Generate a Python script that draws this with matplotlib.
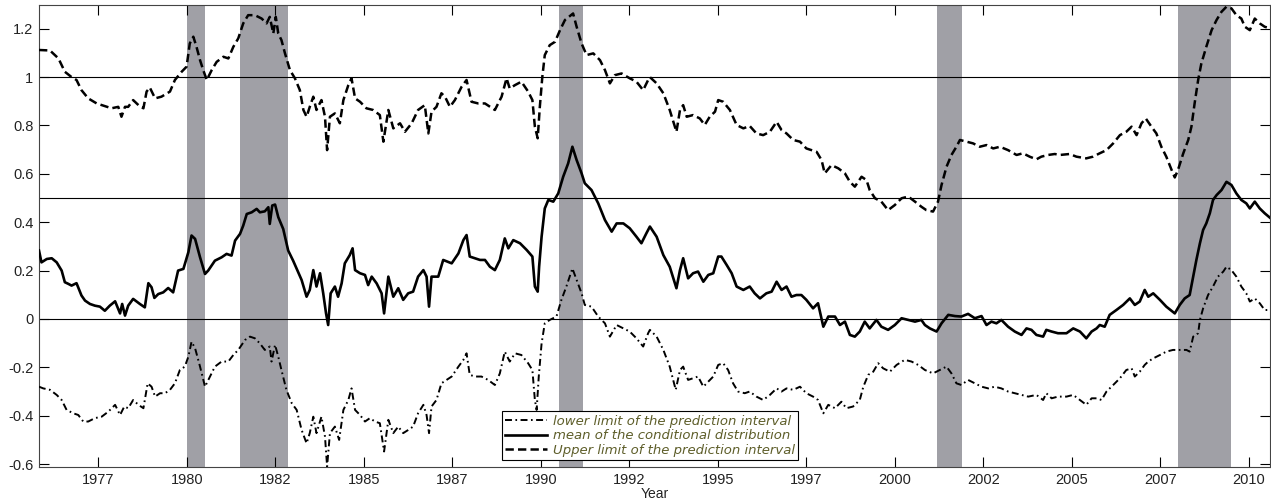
import matplotlib
matplotlib.use('Agg')
import matplotlib.pyplot as plt
from matplotlib.ticker import FuncFormatter

plt.rcParams['font.family'] = ['Liberation Sans', 'DejaVu Sans']
plt.rcParams['axes.unicode_minus'] = False
plt.rcParams['lines.scale_dashes'] = False

# upper limit of the prediction interval
upper_years = [1975.82, 1976.13, 1976.37, 1976.55, 1976.74, 1976.88, 1977.02, 1977.21, 1977.45, 1977.68,
               1977.87, 1978.06, 1978.15, 1978.25, 1978.34, 1978.48, 1978.63, 1978.77, 1978.86, 1978.95,
               1979.10, 1979.28, 1979.52, 1979.66, 1979.85, 1979.99, 1980.08, 1980.18, 1980.27, 1980.37,
               1980.46, 1980.56, 1980.70, 1980.84, 1981.03, 1981.17, 1981.31, 1981.45, 1981.59, 1981.73,
               1981.92, 1982.11, 1982.25, 1982.34, 1982.44, 1982.51, 1982.58, 1982.67, 1982.77, 1982.91,
               1983.05, 1983.19, 1983.29, 1983.38, 1983.47, 1983.57, 1983.66, 1983.80, 1983.90, 1983.96,
               1984.04, 1984.18, 1984.32, 1984.42, 1984.56, 1984.65, 1984.75, 1984.89, 1985.07, 1985.26,
               1985.45, 1985.55, 1985.69, 1985.83, 1986.02, 1986.16, 1986.35, 1986.53, 1986.72, 1986.82,
               1986.91, 1987.05, 1987.19, 1987.29, 1987.43, 1987.57, 1987.76, 1987.90, 1988.04, 1988.23,
               1988.42, 1988.70, 1988.89, 1989.03, 1989.12, 1989.27, 1989.45, 1989.64, 1989.76, 1989.83,
               1989.91, 1989.97, 1990.04, 1990.11, 1990.25, 1990.40, 1990.54, 1990.68, 1990.91, 1991.01,
               1991.15, 1991.29, 1991.48, 1991.67, 1991.81, 1991.95, 1992.09, 1992.28, 1992.51, 1992.70,
               1992.89, 1993.03, 1993.08, 1993.27, 1993.46, 1993.64, 1993.83, 1993.93, 1994.02, 1994.12,
               1994.30, 1994.49, 1994.63, 1994.77, 1994.92, 1995.01, 1995.15, 1995.34, 1995.53, 1995.72,
               1995.90, 1996.09, 1996.28, 1996.47, 1996.66, 1996.80, 1996.94, 1997.13, 1997.32, 1997.50,
               1997.79, 1997.93, 1998.02, 1998.21, 1998.40, 1998.59, 1998.73, 1998.87, 1999.06, 1999.20,
               1999.29, 1999.44, 1999.62, 1999.81, 2000.00, 2000.19, 2000.38, 2000.57, 2000.75, 2000.89,
               2001.08, 2001.22, 2001.32, 2001.46, 2001.60, 2001.74, 2001.84, 2002.02, 2002.21, 2002.40,
               2002.59, 2002.78, 2002.97, 2003.20, 2003.44, 2003.62, 2003.81, 2004.00, 2004.14, 2004.33,
               2004.52, 2004.66, 2004.94, 2005.13, 2005.41, 2005.60, 2005.79, 2005.98, 2006.17, 2006.36,
               2006.54, 2006.69, 2006.83, 2006.97, 2007.09, 2007.25, 2007.39, 2007.53, 2007.67, 2007.82,
               2007.91, 2008.00, 2008.15, 2008.29, 2008.38, 2008.47, 2008.57, 2008.66, 2008.80, 2008.95,
               2009.09, 2009.23, 2009.37, 2009.51, 2009.65, 2009.79, 2009.89, 2010.03, 2010.17, 2010.31,
               2010.45, 2010.62]
upper = [1.112, 1.110, 1.077, 1.022, 1.000, 0.988, 0.946, 0.912, 0.891, 0.880,
         0.871, 0.877, 0.836, 0.877, 0.877, 0.905, 0.884, 0.871, 0.940, 0.957,
         0.912, 0.919, 0.940, 0.988, 1.022, 1.043, 1.139, 1.167, 1.125, 1.070,
         1.029, 0.988, 1.029, 1.063, 1.084, 1.077, 1.125, 1.160, 1.222, 1.256,
         1.256, 1.242, 1.222, 1.249, 1.180, 1.249, 1.180, 1.153, 1.098, 1.029,
         0.995, 0.946, 0.864, 0.836, 0.877, 0.919, 0.864, 0.905, 0.836, 0.698,
         0.836, 0.850, 0.809, 0.905, 0.967, 0.995, 0.912, 0.898, 0.871, 0.864,
         0.843, 0.733, 0.864, 0.788, 0.809, 0.774, 0.809, 0.864, 0.884, 0.767,
         0.857, 0.877, 0.933, 0.919, 0.877, 0.905, 0.960, 0.988, 0.898, 0.891,
         0.891, 0.864, 0.919, 0.995, 0.953, 0.967, 0.981, 0.940, 0.905, 0.795,
         0.747, 0.877, 1.000, 1.091, 1.132, 1.146, 1.194, 1.236, 1.263, 1.208,
         1.139, 1.091, 1.098, 1.070, 1.029, 0.974, 1.008, 1.015, 0.995, 0.981,
         0.946, 0.988, 1.000, 0.974, 0.933, 0.864, 0.774, 0.864, 0.884, 0.836,
         0.843, 0.829, 0.802, 0.836, 0.857, 0.905, 0.898, 0.864, 0.802, 0.788,
         0.798, 0.767, 0.760, 0.774, 0.815, 0.781, 0.767, 0.740, 0.733, 0.705,
         0.691, 0.657, 0.602, 0.636, 0.623, 0.602, 0.567, 0.547, 0.588, 0.574,
         0.533, 0.499, 0.485, 0.450, 0.471, 0.499, 0.506, 0.485, 0.464, 0.450,
         0.444, 0.485, 0.554, 0.629, 0.678, 0.712, 0.740, 0.733, 0.726, 0.712,
         0.719, 0.705, 0.712, 0.698, 0.678, 0.685, 0.671, 0.660, 0.671, 0.678,
         0.682, 0.678, 0.682, 0.671, 0.664, 0.671, 0.685, 0.698, 0.726, 0.760,
         0.774, 0.795, 0.760, 0.809, 0.829, 0.795, 0.767, 0.712, 0.671, 0.616,
         0.585, 0.616, 0.685, 0.740, 0.795, 0.891, 0.988, 1.056, 1.125, 1.194,
         1.236, 1.270, 1.291, 1.284, 1.256, 1.242, 1.208, 1.194, 1.242, 1.222,
         1.208, 1.201]

# mean of the conditional distribution
mean_years = [1975.82, 1975.89, 1976.04, 1976.18, 1976.32, 1976.46, 1976.55, 1976.65, 1976.74, 1976.88,
              1977.02, 1977.12, 1977.26, 1977.40, 1977.54, 1977.68, 1977.82, 1977.97, 1978.11, 1978.17,
              1978.25, 1978.34, 1978.48, 1978.67, 1978.81, 1978.91, 1979.00, 1979.08, 1979.19, 1979.33,
              1979.47, 1979.61, 1979.75, 1979.90, 1980.04, 1980.13, 1980.23, 1980.37, 1980.51, 1980.60,
              1980.79, 1980.98, 1981.12, 1981.26, 1981.36, 1981.50, 1981.59, 1981.69, 1981.83, 1981.97,
              1982.06, 1982.20, 1982.30, 1982.34, 1982.41, 1982.49, 1982.58, 1982.72, 1982.86, 1983.00,
              1983.24, 1983.38, 1983.47, 1983.57, 1983.66, 1983.76, 1983.85, 1983.93, 1983.99, 1984.06,
              1984.18, 1984.27, 1984.37, 1984.46, 1984.60, 1984.68, 1984.75, 1984.89, 1985.03, 1985.12,
              1985.22, 1985.36, 1985.50, 1985.57, 1985.69, 1985.83, 1985.97, 1986.11, 1986.25, 1986.39,
              1986.53, 1986.68, 1986.77, 1986.84, 1986.91, 1987.10, 1987.24, 1987.48, 1987.67, 1987.81,
              1987.90, 1987.99, 1988.14, 1988.28, 1988.42, 1988.56, 1988.70, 1988.84, 1988.98, 1989.08,
              1989.22, 1989.41, 1989.60, 1989.76, 1989.83, 1989.91, 1989.95, 1990.02, 1990.11, 1990.21,
              1990.35, 1990.49, 1990.63, 1990.77, 1990.89, 1991.01, 1991.15, 1991.24, 1991.43, 1991.62,
              1991.81, 1992.00, 1992.14, 1992.33, 1992.51, 1992.70, 1992.84, 1992.98, 1993.08, 1993.27,
              1993.46, 1993.64, 1993.83, 1993.93, 1994.02, 1994.16, 1994.30, 1994.44, 1994.59, 1994.73,
              1994.87, 1995.01, 1995.10, 1995.25, 1995.39, 1995.53, 1995.72, 1995.90, 1996.04, 1996.19,
              1996.37, 1996.52, 1996.66, 1996.80, 1996.94, 1997.08, 1997.22, 1997.36, 1997.50, 1997.69,
              1997.83, 1997.98, 1998.12, 1998.31, 1998.45, 1998.59, 1998.73, 1998.87, 1999.01, 1999.15,
              1999.29, 1999.48, 1999.62, 1999.81, 2000.00, 2000.19, 2000.38, 2000.57, 2000.75, 2000.85,
              2000.99, 2001.18, 2001.32, 2001.51, 2001.70, 2001.88, 2002.07, 2002.26, 2002.45, 2002.59,
              2002.73, 2002.87, 2003.01, 2003.20, 2003.39, 2003.58, 2003.72, 2003.86, 2004.00, 2004.19,
              2004.28, 2004.43, 2004.61, 2004.85, 2005.04, 2005.23, 2005.41, 2005.56, 2005.70, 2005.79,
              2005.93, 2006.07, 2006.26, 2006.45, 2006.64, 2006.78, 2006.92, 2007.06, 2007.16, 2007.30,
              2007.49, 2007.67, 2007.91, 2008.05, 2008.19, 2008.33, 2008.43, 2008.52, 2008.62, 2008.71,
              2008.80, 2008.90, 2008.99, 2009.09, 2009.23, 2009.37, 2009.51, 2009.65, 2009.79, 2009.93,
              2010.03, 2010.17, 2010.31, 2010.45, 2010.62]
mean = [0.283, 0.234, 0.248, 0.251, 0.234, 0.200, 0.152, 0.145, 0.138, 0.148,
        0.097, 0.076, 0.062, 0.055, 0.051, 0.034, 0.055, 0.073, 0.023, 0.062,
        0.014, 0.055, 0.083, 0.062, 0.048, 0.148, 0.131, 0.087, 0.103, 0.110,
        0.128, 0.110, 0.200, 0.207, 0.276, 0.345, 0.331, 0.255, 0.186, 0.200,
        0.241, 0.255, 0.269, 0.262, 0.324, 0.352, 0.386, 0.434, 0.441, 0.455,
        0.441, 0.445, 0.462, 0.393, 0.469, 0.473, 0.421, 0.372, 0.283, 0.241,
        0.161, 0.092, 0.120, 0.202, 0.134, 0.189, 0.106, 0.023, -0.025, 0.106,
        0.134, 0.092, 0.147, 0.230, 0.264, 0.292, 0.202, 0.189, 0.182, 0.140,
        0.175, 0.147, 0.106, 0.023, 0.175, 0.092, 0.127, 0.079, 0.106, 0.113,
        0.175, 0.202, 0.175, 0.051, 0.175, 0.175, 0.244, 0.230, 0.271, 0.326,
        0.347, 0.258, 0.251, 0.244, 0.244, 0.216, 0.202, 0.244, 0.333, 0.292,
        0.326, 0.313, 0.285, 0.258, 0.134, 0.113, 0.216, 0.340, 0.457, 0.492,
        0.485, 0.519, 0.588, 0.643, 0.712, 0.657, 0.602, 0.561, 0.533, 0.478,
        0.409, 0.361, 0.395, 0.395, 0.375, 0.340, 0.313, 0.354, 0.382, 0.340,
        0.264, 0.216, 0.127, 0.202, 0.251, 0.168, 0.189, 0.196, 0.154, 0.182,
        0.189, 0.258, 0.258, 0.223, 0.189, 0.134, 0.120, 0.134, 0.106, 0.085,
        0.106, 0.113, 0.154, 0.120, 0.134, 0.092, 0.099, 0.099, 0.079, 0.044,
        0.065, -0.032, 0.010, 0.010, -0.025, -0.011, -0.066, -0.073, -0.052, -0.011,
        -0.039, -0.004, -0.032, -0.045, -0.025, 0.003, -0.004, -0.011, -0.004, -0.025,
        -0.039, -0.052, -0.018, 0.017, 0.012, 0.010, 0.021, 0.003, 0.012, -0.025,
        -0.011, -0.018, -0.004, -0.032, -0.052, -0.066, -0.039, -0.045, -0.066, -0.073,
        -0.045, -0.052, -0.059, -0.059, -0.039, -0.052, -0.080, -0.052, -0.039, -0.025,
        -0.032, 0.017, 0.037, 0.058, 0.085, 0.058, 0.072, 0.120, 0.092, 0.106,
        0.079, 0.051, 0.023, 0.058, 0.085, 0.099, 0.175, 0.244, 0.313, 0.368,
        0.395, 0.437, 0.492, 0.512, 0.533, 0.567, 0.554, 0.519, 0.492, 0.478,
        0.457, 0.485, 0.457, 0.437, 0.416]

# lower limit of the prediction interval
lower_years = [1975.82, 1975.94, 1976.13, 1976.32, 1976.46, 1976.60, 1976.79, 1976.93, 1977.07, 1977.21,
               1977.40, 1977.59, 1977.78, 1977.97, 1978.11, 1978.23, 1978.34, 1978.48, 1978.63, 1978.77,
               1978.89, 1979.00, 1979.10, 1979.24, 1979.38, 1979.52, 1979.66, 1979.80, 1979.94, 1980.04,
               1980.13, 1980.23, 1980.37, 1980.51, 1980.65, 1980.79, 1980.98, 1981.17, 1981.31, 1981.45,
               1981.64, 1981.78, 1981.92, 1982.06, 1982.20, 1982.34, 1982.39, 1982.49, 1982.58, 1982.67,
               1982.81, 1982.96, 1983.10, 1983.24, 1983.38, 1983.47, 1983.57, 1983.66, 1983.80, 1983.90,
               1983.96, 1984.04, 1984.18, 1984.30, 1984.42, 1984.56, 1984.65, 1984.75, 1984.89, 1985.03,
               1985.17, 1985.31, 1985.45, 1985.57, 1985.69, 1985.83, 1985.97, 1986.11, 1986.25, 1986.39,
               1986.53, 1986.68, 1986.77, 1986.84, 1986.91, 1987.05, 1987.19, 1987.48, 1987.67, 1987.81,
               1987.90, 1987.99, 1988.14, 1988.32, 1988.51, 1988.70, 1988.84, 1988.98, 1989.12, 1989.27,
               1989.45, 1989.64, 1989.76, 1989.83, 1989.88, 1989.94, 1990.02, 1990.11, 1990.25, 1990.44,
               1990.58, 1990.72, 1990.89, 1991.01, 1991.15, 1991.24, 1991.43, 1991.62, 1991.81, 1991.95,
               1992.14, 1992.33, 1992.51, 1992.70, 1992.89, 1993.03, 1993.08, 1993.27, 1993.46, 1993.64,
               1993.81, 1993.93, 1994.02, 1994.16, 1994.30, 1994.44, 1994.59, 1994.73, 1994.87, 1995.01,
               1995.15, 1995.29, 1995.43, 1995.57, 1995.76, 1995.90, 1996.09, 1996.28, 1996.47, 1996.66,
               1996.80, 1996.94, 1997.13, 1997.32, 1997.50, 1997.69, 1997.83, 1997.98, 1998.12, 1998.31,
               1998.49, 1998.63, 1998.82, 1999.01, 1999.11, 1999.25, 1999.39, 1999.53, 1999.67, 1999.86,
               2000.05, 2000.28, 2000.47, 2000.66, 2000.85, 2001.08, 2001.27, 2001.46, 2001.60, 2001.74,
               2001.88, 2002.07, 2002.26, 2002.45, 2002.64, 2002.82, 2003.01, 2003.20, 2003.39, 2003.58,
               2003.77, 2004.00, 2004.19, 2004.28, 2004.43, 2004.61, 2004.85, 2005.04, 2005.23, 2005.41,
               2005.56, 2005.70, 2005.84, 2005.98, 2006.17, 2006.36, 2006.54, 2006.69, 2006.78, 2006.92,
               2007.06, 2007.16, 2007.30, 2007.49, 2007.67, 2007.86, 2008.05, 2008.24, 2008.33, 2008.43,
               2008.57, 2008.62, 2008.71, 2008.85, 2008.99, 2009.13, 2009.28, 2009.37, 2009.51, 2009.65,
               2009.79, 2009.93, 2010.03, 2010.17, 2010.31, 2010.45, 2010.62]
lower = [-0.280, -0.287, -0.293, -0.314, -0.335, -0.376, -0.390, -0.397, -0.424, -0.424,
         -0.410, -0.404, -0.383, -0.355, -0.397, -0.362, -0.369, -0.335, -0.355, -0.369,
         -0.266, -0.280, -0.321, -0.307, -0.307, -0.293, -0.266, -0.211, -0.197, -0.156,
         -0.094, -0.121, -0.197, -0.280, -0.238, -0.197, -0.176, -0.176, -0.149, -0.128,
         -0.087, -0.073, -0.080, -0.101, -0.128, -0.114, -0.176, -0.107, -0.156, -0.211,
         -0.293, -0.348, -0.376, -0.459, -0.514, -0.472, -0.404, -0.472, -0.404, -0.486,
         -0.610, -0.472, -0.445, -0.500, -0.376, -0.335, -0.287, -0.376, -0.397, -0.424,
         -0.410, -0.424, -0.431, -0.548, -0.417, -0.472, -0.445, -0.472, -0.459, -0.445,
         -0.390, -0.355, -0.397, -0.472, -0.362, -0.335, -0.266, -0.238, -0.197, -0.169,
         -0.142, -0.231, -0.238, -0.238, -0.252, -0.273, -0.225, -0.135, -0.176, -0.142,
         -0.149, -0.183, -0.211, -0.335, -0.376, -0.238, -0.101, -0.018, -0.004, 0.010,
         0.079, 0.134, 0.209, 0.161, 0.106, 0.058, 0.051, 0.010, -0.018, -0.073,
         -0.025, -0.039, -0.052, -0.080, -0.114, -0.059, -0.045, -0.073, -0.128, -0.197,
         -0.293, -0.211, -0.197, -0.252, -0.245, -0.238, -0.280, -0.259, -0.238, -0.190,
         -0.183, -0.211, -0.266, -0.300, -0.307, -0.300, -0.321, -0.335, -0.314, -0.287,
         -0.300, -0.287, -0.293, -0.280, -0.307, -0.321, -0.335, -0.390, -0.355, -0.369,
         -0.342, -0.369, -0.362, -0.335, -0.280, -0.231, -0.218, -0.183, -0.204, -0.218,
         -0.190, -0.169, -0.176, -0.190, -0.211, -0.225, -0.211, -0.197, -0.225, -0.266,
         -0.273, -0.252, -0.266, -0.280, -0.287, -0.280, -0.287, -0.300, -0.307, -0.314,
         -0.321, -0.314, -0.335, -0.307, -0.328, -0.321, -0.321, -0.314, -0.335, -0.355,
         -0.328, -0.328, -0.335, -0.300, -0.273, -0.245, -0.211, -0.204, -0.238, -0.218,
         -0.190, -0.176, -0.163, -0.149, -0.135, -0.128, -0.128, -0.128, -0.135, -0.073,
         -0.059, -0.004, 0.044, 0.099, 0.134, 0.175, 0.196, 0.216, 0.202, 0.175,
         0.134, 0.106, 0.072, 0.085, 0.065, 0.037, 0.037]

# recession periods (start, end)
rec_start = [1980.0, 1981.5, 1990.5, 2001.2, 2008.0]
rec_end = [1980.5, 1982.85, 1991.2, 2001.9, 2009.5]

ref_levels = [0, 0.5, 1]
xtick_pos = [1977.5, 1980, 1982.5, 1985, 1987.5, 1990, 1992.5, 1995, 1997.5, 2000, 2002.5, 2005, 2007.5, 2010]
ytick_pos = [-0.6, -0.4, -0.2, 0, 0.2, 0.4, 0.6, 0.8, 1, 1.2]

fig = plt.figure(figsize=(12.71, 5.0), dpi=100)
ax = fig.add_axes([39 / 1271, 1 - 467 / 500, 1231 / 1271, 462 / 500])

for s, e in zip(rec_start, rec_end):
    ax.axvspan(s, e, color='#a0a0a6', lw=0, zorder=1)
for lvl in ref_levels:
    ax.axhline(lvl, color='black', lw=0.8, zorder=2)

ax.plot(lower_years, lower, color='black', lw=1.4, ls=(0, (5, 2.5, 1.2, 2.5)), zorder=3,
        label='lower limit of the prediction interval')
ax.plot(mean_years, mean, color='black', lw=1.9, ls='-', zorder=3,
        label='mean of the conditional distribution')
ax.plot(upper_years, upper, color='black', lw=1.8, ls=(0, (6, 3)), zorder=3,
        label='Upper limit of the prediction interval')

ax.set_xlim(1975.82, 2010.6)
ax.set_ylim(-0.612, 1.298)
ax.set_xticks(xtick_pos)
ax.xaxis.set_major_formatter(FuncFormatter(lambda v, p: str(int(v))))
ax.set_yticks(ytick_pos)
ax.yaxis.set_major_formatter(FuncFormatter(lambda v, p: '%g' % round(v, 2)))
ax.tick_params(direction='in', length=7, width=0.8, top=True, right=True,
               labelsize=10.5, labelcolor='#222222', pad=4)
for sp in ax.spines.values():
    sp.set_color('#444444')
    sp.set_linewidth(0.8)

ax.set_xlabel('Year', fontsize=10, color='#222222')
ax.xaxis.set_label_coords(0.5, -0.044)

leg = ax.legend(loc='lower left', bbox_to_anchor=(0.376, 0.015), borderaxespad=0,
                handlelength=3.2, handletextpad=0.4, labelspacing=0.12,
                borderpad=0.25, fancybox=False, framealpha=1, edgecolor='black',
                prop={'family': 'DejaVu Sans', 'style': 'italic', 'size': 9.5})
leg.get_frame().set_linewidth(0.8)
for t in leg.get_texts():
    t.set_color('#5e5e2a')

fig.savefig('out.png', dpi=100)
